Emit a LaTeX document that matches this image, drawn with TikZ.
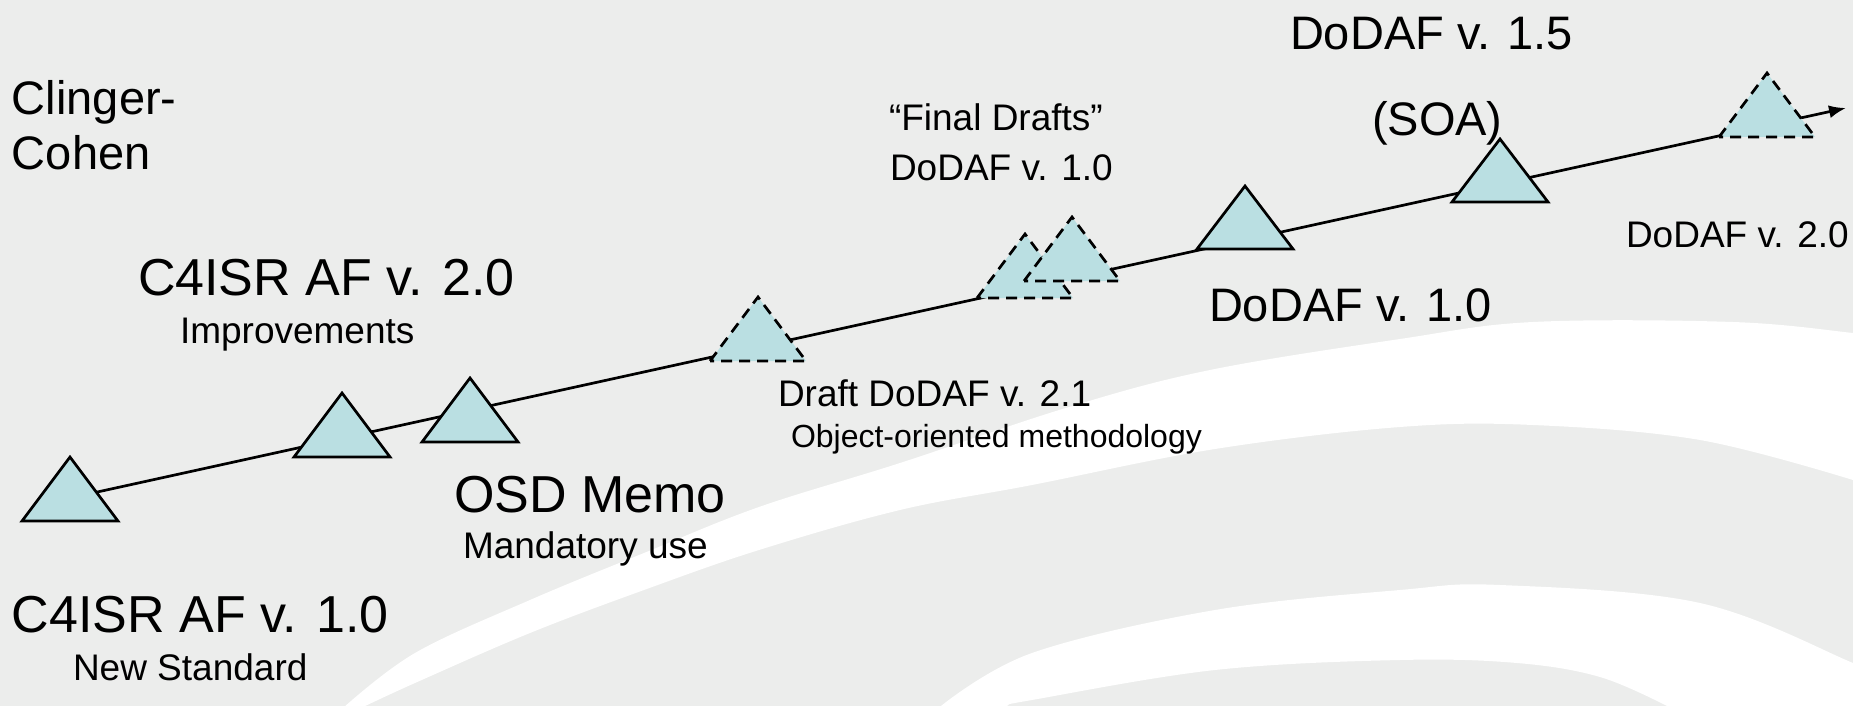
\documentclass[tikz,border=0pt]{standalone}
\usepackage{fontspec}
\setmainfont{Liberation Sans}
\usetikzlibrary{arrows.meta}
\definecolor{bg}{RGB}{236,237,236}
\definecolor{trifill}{RGB}{186,223,226}
\newcommand\mytri[4]{\draw[#1] (#2-48,#4) -- (#2,#3) -- (#2+48,#4) -- cycle;}
\begin{document}
\begin{tikzpicture}[x=1pt,y=-1pt,
  lbl/.style={anchor=base west, inner sep=0pt, outer sep=0pt, text=black},
  big/.style={lbl, font=\fontsize{52}{60}\selectfont},
  mid/.style={lbl, font=\fontsize{47}{54}\selectfont},
  small/.style={lbl, font=\fontsize{37}{44}\selectfont},
  tiny/.style={lbl, font=\fontsize{32}{38}\selectfont},
  trisolid/.style={fill=trifill, draw=black, line width=2.7pt, line join=miter},
  tridash/.style={trisolid, dash pattern=on 11pt off 7pt},
  conn/.style={draw=black, line width=2.7pt, -{Latex[length=17pt,width=13pt]}},
  band/.style={fill=white}
]
\useasboundingbox (0,0) rectangle (1853,706);
\fill[bg] (0,0) rectangle (1853,706);
\begin{scope}
\clip (0,0) rectangle (1853,706);
% white swoosh A
\fill[band] (338,716) -- plot[smooth, tension=0.6] coordinates {(343,708) (415,653) (530,600) (644,553) (759,507) (900,463) (1069,407) (1210,370) (1400,339) (1533,322) (1733,322) (1853,333) (1880,337)}
  -- (1880,488) -- plot[smooth, tension=0.6] coordinates {(1853,480) (1700,440) (1533,425) (1400,427) (1215,449) (1032,485) (900,510) (759,550) (644,590) (530,633) (415,683) (361,708)} -- (356,716) -- cycle;
% white swoosh B
\fill[band] (930,716) -- plot[smooth, tension=0.6] coordinates {(941,706) (1032,653) (1215,610) (1400,590) (1500,585) (1700,603) (1853,663) (1880,676)}
  -- (1880,716) -- (1675,716) -- plot[smooth, tension=0.6] coordinates {(1667,706) (1600,677) (1517,663) (1400,660) (1215,670) (1032,700) (1007,706) (995,716)} -- cycle;
\end{scope}
% connector
\coordinate (ls) at (70,498);
\coordinate (le) at (1846,108);
\draw[conn] (ls) -- (le);
% triangles
\mytri{trisolid}{70}{457}{521}
\mytri{trisolid}{342}{393}{457}
\mytri{trisolid}{470}{378}{442}
\mytri{tridash}{758}{297}{361}
\mytri{tridash}{1025}{234}{298}
\mytri{tridash}{1072}{217}{281}
\mytri{trisolid}{1245}{186}{249}
\mytri{trisolid}{1500}{139}{202}
\mytri{tridash}{1767}{73}{137}
% labels
\node[mid] (clinger) at (12,115) {Clinger-};
\node[mid] (cohen) at (12,170) {Cohen};
\node[big] (c4v2) at (138,295) {C4ISR AF v. 2.0};
\node[small] (impr) at (180,343) {Improvements};
\node[big] (c4v1) at (12,632) {C4ISR AF v. 1.0};
\node[small] (newstd) at (73,680) {New Standard};
\node[big] (osd) at (454,512) {OSD Memo};
\node[small] (mand) at (463,558) {Mandatory use};
\node[small] (draft) at (778,406) {Draft DoDAF v. 2.1};
\node[tiny] (oo) at (791,447) {Object-oriented methodology};
\node[small] (final) at (889,131) {“Final Drafts”};
\node[small] (dodten) at (890,180) {DoDAF v. 1.0};
\node[mid] (dodtenb) at (1209,321) {DoDAF v. 1.0};
\node[mid] (dodfif) at (1290,50) {DoDAF v. 1.5};
\node[mid] (soa) at (1372,136) {(SOA)};
\node[small] (dodtwo) at (1626,247) {DoDAF v. 2.0};
\end{tikzpicture}
\end{document}
